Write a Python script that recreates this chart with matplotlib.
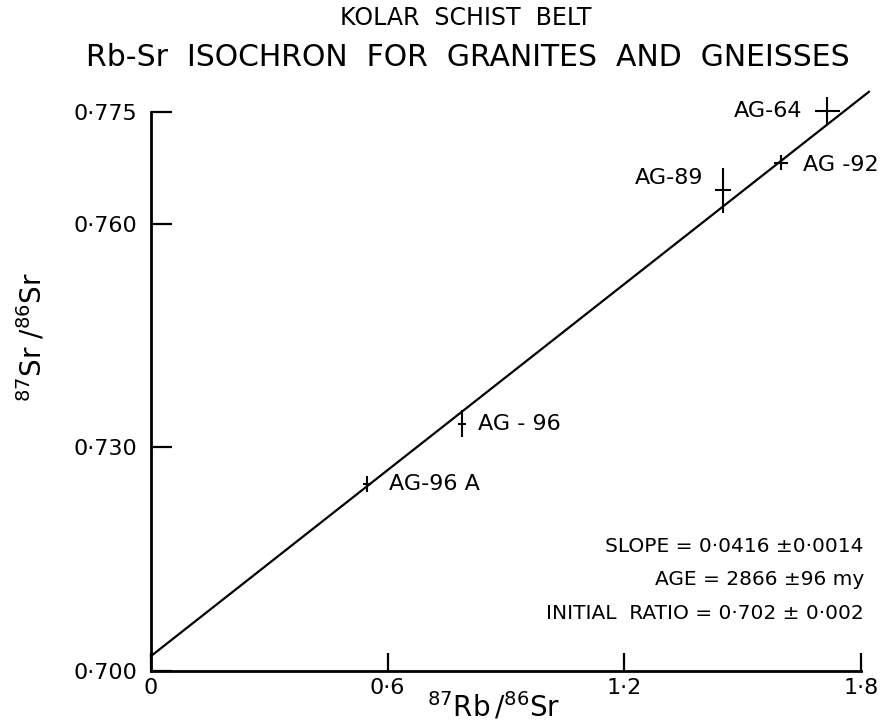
import matplotlib
matplotlib.use("Agg")
import matplotlib.pyplot as plt

plt.rcParams['font.family'] = 'DejaVu Sans'
plt.rcParams['mathtext.fontset'] = 'dejavusans'

# Proben (87Rb/86Sr, 87Sr/86Sr) mit Fehlerbalken
samples = ['AG-96 A', 'AG - 96', 'AG-89', 'AG -92', 'AG-64']
rb_sr = [0.548, 0.788, 1.450, 1.597, 1.715]
sr_sr = [0.7251, 0.7332, 0.7645, 0.7682, 0.7752]
x_err = [0.010, 0.010, 0.021, 0.017, 0.032]
y_err = [0.0011, 0.0018, 0.0030, 0.0010, 0.0018]

# Isochrone
slope = 0.0416
initial_ratio = 0.702
line_x = [0.0, 1.82]

x_ticks = [0.0, 0.6, 1.2, 1.8]
x_ticklabels = ['0', '0·6', '1·2', '1·8']
y_ticks = [0.700, 0.730, 0.760, 0.775]
y_ticklabels = ['0·700', '0·730', '0·760', '0·775']

results = ['SLOPE = 0·0416 ±0·0014',
           'AGE = 2866 ±96 my',
           'INITIAL  RATIO = 0·702 ± 0·002']

# Textversatz der Probennamen in Pixeln (dx, dy, ha)
label_offsets = [(22, 0, 'left'), (16, 0, 'left'), (-20, 12, 'right'),
                 (22, -2, 'left'), (-25, 0, 'right')]

fig = plt.figure(figsize=(8.85, 7.25), dpi=100)
ax = fig.add_axes([0.1706, 0.0745, 0.8023, 0.7710])

ax.plot(line_x, [initial_ratio + slope * x for x in line_x],
        color='black', lw=1.6, clip_on=False)
ax.errorbar(rb_sr, sr_sr, xerr=x_err, yerr=y_err, fmt='none',
            ecolor='black', elinewidth=1.5, capsize=0, clip_on=False)

for name, x, y, (dx, dy, ha) in zip(samples, rb_sr, sr_sr, label_offsets):
    ax.annotate(name, (x, y), xytext=(dx, dy), textcoords='offset pixels',
                ha=ha, va='center', fontsize=16, annotation_clip=False)

for i, line in enumerate(results):
    ax.text(1.004, 0.2236 - i * 0.06, line, transform=ax.transAxes,
            ha='right', va='center', fontsize=14.5)

ax.set_xlim(0, 1.8)
ax.set_ylim(0.700, 0.775)
ax.set_xticks(x_ticks)
ax.set_xticklabels(x_ticklabels, fontsize=16)
ax.set_yticks(y_ticks)
ax.set_yticklabels(y_ticklabels, fontsize=16)
ax.tick_params(axis='both', direction='in', width=1.6, color='black')
ax.tick_params(axis='y', length=15, pad=10)
ax.tick_params(axis='x', length=13, pad=5)
for side in ['top', 'right']:
    ax.spines[side].set_visible(False)
for side in ['left', 'bottom']:
    ax.spines[side].set_linewidth(2.0)

fig.text(466 / 885, 1 - 18 / 725, 'KOLAR  SCHIST  BELT', ha='center', va='center', fontsize=17)
fig.text(468 / 885, 1 - 58 / 725, 'Rb-Sr  ISOCHRON  FOR  GRANITES  AND  GNEISSES',
         ha='center', va='center', fontsize=21.5)
fig.text(32 / 885, 1 - 337 / 725, r'$^{87}\mathrm{Sr}\ /^{86}\mathrm{Sr}$',
         rotation=90, ha='center', va='center', fontsize=20)
fig.text(494 / 885, 1 - 707 / 725, r'$^{87}\mathrm{Rb}\,/^{86}\mathrm{Sr}$',
         ha='center', va='center', fontsize=20)

fig.savefig('out.png', dpi=100)
